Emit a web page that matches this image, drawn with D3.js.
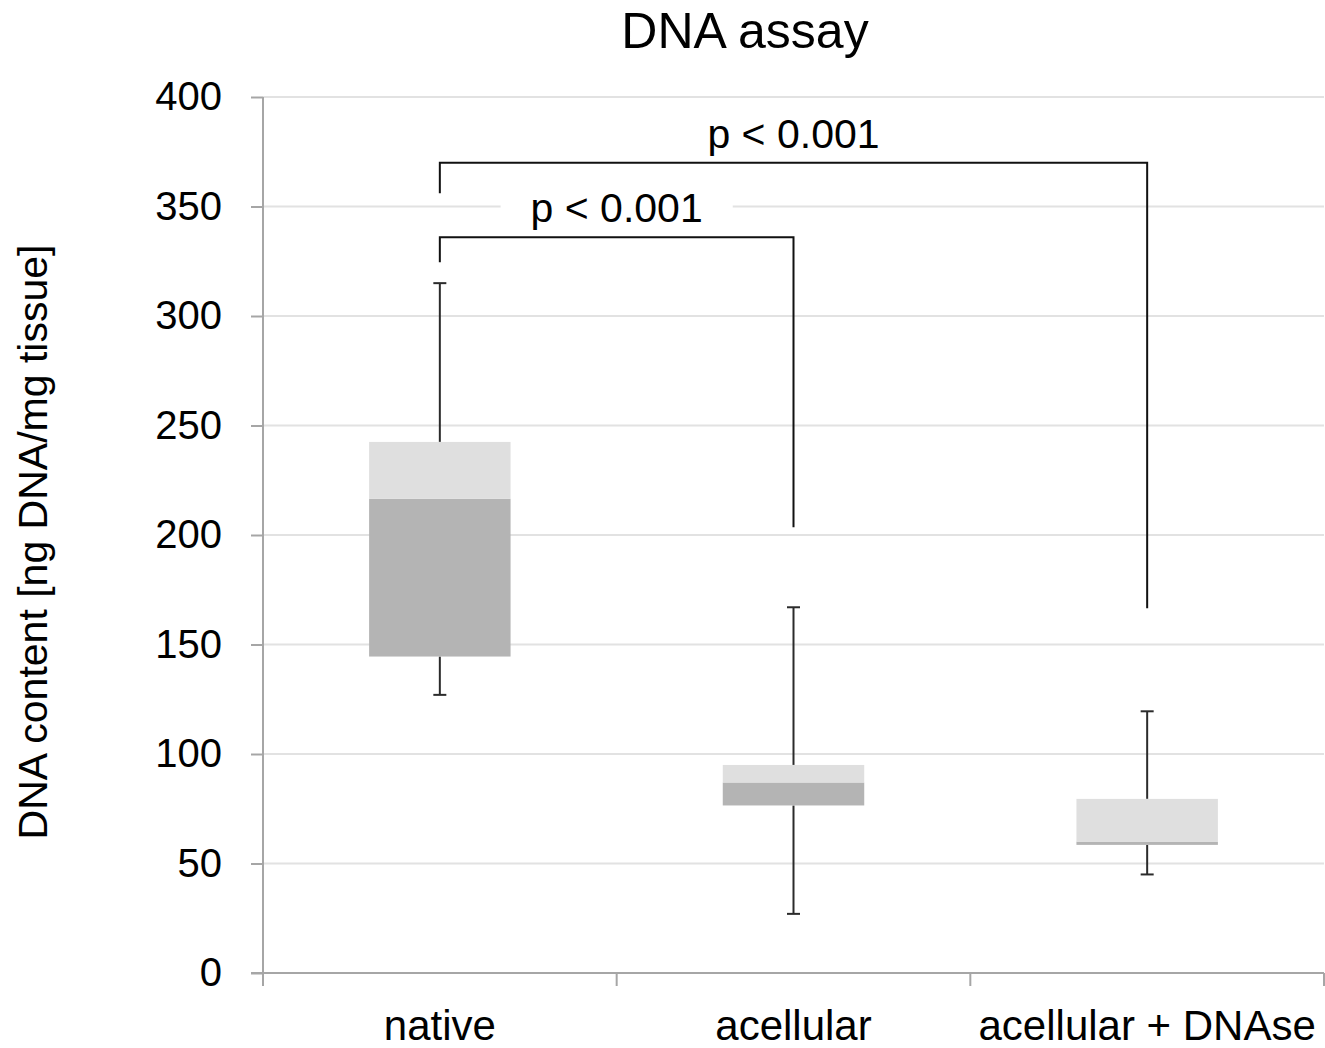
<!DOCTYPE html>
<html>
<head>
<meta charset="utf-8">
<script src="https://cdn.jsdelivr.net/npm/d3@7"></script>
<style>
  body { margin: 0; background: #fff; }
  svg { display: block; font-family: "Liberation Sans", Arial, sans-serif; }
</style>
</head>
<body>
<svg id="chart" width="1325" height="1048"></svg>
<script>
const categories = ["native", "acellular", "acellular + DNAse"];
const minValues    = [127,   27,   45];
const q1Values     = [144.5, 76.5, 58.5];
const medianValues = [216.5, 87,   60];
const q3Values     = [242.5, 95,   79.5];
const maxValues    = [315,   167,  119.5];
const yTicks = [0, 50, 100, 150, 200, 250, 300, 350, 400];

// significance brackets: from category, to category, top value, left leg end, right leg end, label
const bracketFrom  = ["native", "native"];
const bracketTo    = ["acellular", "acellular + DNAse"];
const bracketTop   = [336, 370];
const bracketLeftEnd  = [324.5, 356];
const bracketRightEnd = [203.5, 166.5];
const bracketLabels = ["p < 0.001", "p < 0.001"];

(function () {
const svg = d3.select("#chart");
const mLeft = 263, mRight = 1324, mTop = 97, mBottom = 973;

const x = d3.scaleBand().domain(categories).range([mLeft, mRight]).paddingInner(0).paddingOuter(0);
const y = d3.scaleLinear().domain([0, 400]).range([mBottom, mTop]);

// gridlines
svg.append("g").selectAll("line").data(yTicks.filter(d => d > 0)).join("line")
  .attr("x1", mLeft).attr("x2", mRight)
  .attr("y1", d => y(d)).attr("y2", d => y(d))
  .attr("stroke", "#e2e2e2").attr("stroke-width", 2);

// y axis
const yAxis = svg.append("g").attr("transform", `translate(${mLeft},0)`)
  .call(d3.axisLeft(y).tickValues(yTicks).tickSize(12).tickPadding(29).tickFormat(d3.format("d")));
yAxis.select(".domain").attr("stroke", "#a6a6a6").attr("stroke-width", 2)
  .attr("d", `M0,${mTop}V${mBottom + 13}`);
yAxis.selectAll(".tick line").attr("stroke", "#a6a6a6").attr("stroke-width", 2);
yAxis.selectAll(".tick text").attr("font-size", 40).attr("fill", "#000")
  .attr("font-family", "Liberation Sans, Arial, sans-serif");

// x axis
const xAxis = svg.append("g").attr("transform", `translate(0,${mBottom})`)
  .call(d3.axisBottom(x).tickSize(0).tickPadding(0));
xAxis.select(".domain").attr("stroke", "#a6a6a6").attr("stroke-width", 2)
  .attr("d", `M${mLeft - 12},0H${mRight}`);
xAxis.selectAll(".tick text").attr("font-size", 42).attr("fill", "#000")
  .attr("dy", 0).attr("y", 67)
  .attr("font-family", "Liberation Sans, Arial, sans-serif");
// band boundary ticks
const boundaries = categories.map(c => x(c)).concat([x(categories[categories.length - 1]) + x.bandwidth()]);
svg.append("g").selectAll("line").data(boundaries.slice(1)).join("line")
  .attr("x1", d => d).attr("x2", d => d)
  .attr("y1", mBottom).attr("y2", mBottom + 13)
  .attr("stroke", "#a6a6a6").attr("stroke-width", 2);

// box plots
const boxW = x.bandwidth() * 0.4;
const capW = 13;
const data = categories.map((c, i) => ({
  c, min: minValues[i], q1: q1Values[i], med: medianValues[i], q3: q3Values[i], max: maxValues[i]
}));
const g = svg.append("g");
data.forEach(d => {
  const cx = x(d.c) + x.bandwidth() / 2;
  g.append("line").attr("x1", cx).attr("x2", cx).attr("y1", y(d.q3)).attr("y2", y(d.max))
    .attr("stroke", "#2b2b2b").attr("stroke-width", 2);
  g.append("line").attr("x1", cx).attr("x2", cx).attr("y1", y(d.q1)).attr("y2", y(d.min))
    .attr("stroke", "#2b2b2b").attr("stroke-width", 2);
  g.append("line").attr("x1", cx - capW / 2).attr("x2", cx + capW / 2).attr("y1", y(d.max)).attr("y2", y(d.max))
    .attr("stroke", "#2b2b2b").attr("stroke-width", 2);
  g.append("line").attr("x1", cx - capW / 2).attr("x2", cx + capW / 2).attr("y1", y(d.min)).attr("y2", y(d.min))
    .attr("stroke", "#2b2b2b").attr("stroke-width", 2);
  g.append("rect").attr("x", cx - boxW / 2).attr("width", boxW)
    .attr("y", y(d.med)).attr("height", y(d.q1) - y(d.med))
    .attr("fill", "#b4b4b4");
  g.append("rect").attr("x", cx - boxW / 2).attr("width", boxW)
    .attr("y", y(d.q3)).attr("height", y(d.med) - y(d.q3))
    .attr("fill", "#dfdfdf");
});

// brackets
const bg = svg.append("g");
bracketFrom.forEach((f, i) => {
  const x1 = x(f) + x.bandwidth() / 2;
  const x2 = x(bracketTo[i]) + x.bandwidth() / 2;
  const path = d3.path();
  path.moveTo(x1, y(bracketLeftEnd[i]));
  path.lineTo(x1, y(bracketTop[i]));
  path.lineTo(x2, y(bracketTop[i]));
  path.lineTo(x2, y(bracketRightEnd[i]));
  bg.append("path").attr("d", path.toString()).attr("fill", "none")
    .attr("stroke", "#111").attr("stroke-width", 2);
  const mx = (x1 + x2) / 2;
  const t = bg.append("text").attr("x", mx).attr("y", y(bracketTop[i]) - 15)
    .attr("text-anchor", "middle").attr("font-size", 41).attr("fill", "#000")
    .text(bracketLabels[i]);
  const bb = t.node().getBBox();
  bg.insert("rect", "text").attr("x", bb.x - 30).attr("y", bb.y + 4).attr("width", bb.width + 60).attr("height", bb.height - 4)
    .attr("fill", "#fff");
});

// title
svg.append("text").attr("x", 745).attr("y", 48).attr("text-anchor", "middle")
  .attr("font-size", 50).attr("fill", "#000").text("DNA assay");

// y label
svg.append("text").attr("transform", `translate(47,${(mTop + mBottom) / 2 + 7}) rotate(-90)`)
  .attr("text-anchor", "middle").attr("font-size", 41).attr("fill", "#000")
  .text("DNA content [ng DNA/mg tissue]");
})();
</script>
</body>
</html>
